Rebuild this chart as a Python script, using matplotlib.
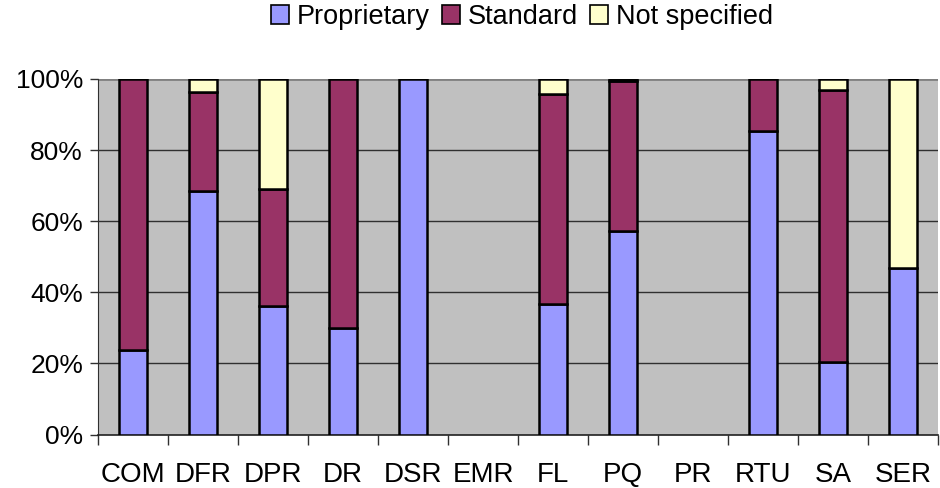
import matplotlib
matplotlib.use("Agg")
import matplotlib.pyplot as plt
from matplotlib.patches import Patch
import numpy as np

plt.rcParams['font.family'] = ['Liberation Sans', 'DejaVu Sans']

categories = ["COM", "DFR", "DPR", "DR", "DSR", "EMR", "FL", "PQ", "PR", "RTU", "SA", "SER"]
proprietary = [23.8, 68.5, 36.2, 30.0, 100.0, 0.0, 36.8, 57.2, 0.0, 85.4, 20.4, 46.7]
standard = [76.2, 27.9, 32.9, 70.0, 0.0, 0.0, 59.1, 42.3, 0.0, 14.6, 76.5, 0.0]
not_specified = [0.0, 3.6, 30.9, 0.0, 0.0, 0.0, 4.1, 0.5, 0.0, 0.0, 3.1, 53.3]
series_names = ["Proprietary", "Standard", "Not specified"]
y_ticks = [0, 20, 40, 60, 80, 100]

colors = ["#9999FF", "#993366", "#FFFFCC"]

fig = plt.figure(figsize=(9.4, 4.88), dpi=100)
ax = fig.add_axes([98.3 / 940, 1 - 434.5 / 488, (938 - 98.3) / 940, (434.5 - 79) / 488])
ax.set_facecolor("#C0C0C0")

x = np.arange(len(categories))
bottom = np.zeros(len(categories))
for vals, col in zip([proprietary, standard, not_specified], colors):
    v = np.array(vals, dtype=float)
    mask = v > 0
    ax.bar(x[mask], v[mask], width=0.4, bottom=bottom[mask], color=col,
           edgecolor="black", linewidth=1.8, zorder=3)
    bottom += v

ax.set_xlim(-0.5, len(categories) - 0.5)
ax.set_ylim(0, 100)

# gridlines
for yv in y_ticks[1:]:
    ax.axhline(yv, color="#303030" if yv < 100 else "#808080",
               linewidth=1.0 if yv < 100 else 2.0, zorder=1)

ax.set_yticks(y_ticks)
ax.set_yticklabels([f"{v}%" for v in y_ticks], fontsize=19)
ax.tick_params(axis="y", length=6, width=1, color="#303030", pad=5)

ax.set_xticks(np.arange(len(categories) + 1) - 0.5)
ax.set_xticklabels([])
ax.tick_params(axis="x", which="major", length=7, width=1, color="#303030")
ax.set_xticks(x, minor=True)
ax.set_xticklabels(categories, minor=True, fontsize=20)
ax.tick_params(axis="x", which="minor", length=0, pad=20)

for s in ["top", "right"]:
    ax.spines[s].set_visible(False)
ax.spines["left"].set_color("#303030")
ax.spines["bottom"].set_color("#202020")
ax.spines["bottom"].set_linewidth(1.2)

handles = [Patch(facecolor=c, edgecolor="black", linewidth=1.2) for c in colors]
fig.legend(handles, series_names, loc="center", bbox_to_anchor=(522 / 940, 1 - 17 / 488),
           ncol=3, frameon=False, fontsize=19.5, handlelength=0.65, handleheight=0.65,
           handletextpad=0.3, columnspacing=0.45)

fig.savefig("out.png", dpi=100)
